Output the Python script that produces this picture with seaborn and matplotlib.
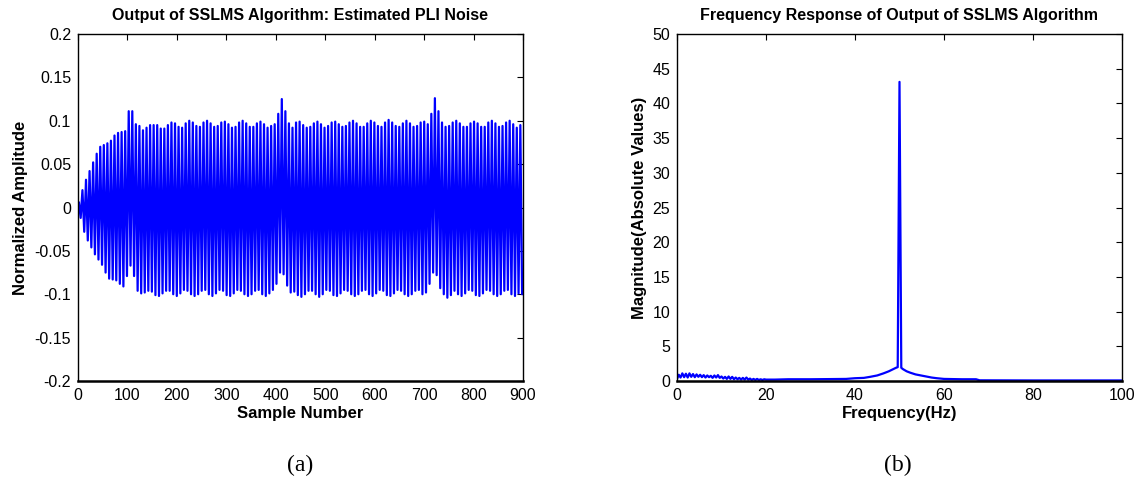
import numpy as np
import pandas as pd
import matplotlib
matplotlib.use("Agg")
import matplotlib.pyplot as plt
import seaborn as sns

# ---- (a) estimated PLI noise: per-cycle extremes of the filter output ----
CYCLE_SAMPLES = 7.2          # 50 Hz interference sampled at 360 Hz
N_SAMPLES = 900

peak_values = [
    0.006, 0.020, 0.032, 0.042, 0.052,
    0.062, 0.070, 0.072, 0.074, 0.077,
    0.083, 0.086, 0.087, 0.088, 0.111,
    0.111, 0.096, 0.094, 0.089, 0.092,
    0.095, 0.095, 0.095, 0.091, 0.091,
    0.095, 0.098, 0.097, 0.093, 0.092,
    0.097, 0.100, 0.098, 0.094, 0.093,
    0.098, 0.100, 0.097, 0.093, 0.094,
    0.098, 0.099, 0.096, 0.092, 0.093,
    0.098, 0.100, 0.097, 0.093, 0.093,
    0.097, 0.099, 0.096, 0.092, 0.094,
    0.096, 0.108, 0.125, 0.111, 0.097,
    0.092, 0.098, 0.099, 0.095, 0.092,
    0.093, 0.097, 0.099, 0.096, 0.092,
    0.094, 0.098, 0.099, 0.096, 0.093,
    0.094, 0.098, 0.100, 0.097, 0.093,
    0.093, 0.097, 0.100, 0.098, 0.094,
    0.093, 0.098, 0.101, 0.098, 0.094,
    0.093, 0.097, 0.100, 0.097, 0.093,
    0.094, 0.098, 0.099, 0.096, 0.108,
    0.126, 0.111, 0.098, 0.093, 0.094,
    0.098, 0.100, 0.097, 0.093, 0.093,
    0.097, 0.099, 0.097, 0.093, 0.093,
    0.098, 0.100, 0.097, 0.093, 0.094,
    0.098, 0.100, 0.096, 0.092, 0.095,
]

trough_values = [
    -0.012, -0.028, -0.038, -0.046, -0.054,
    -0.060, -0.066, -0.075, -0.082, -0.083,
    -0.084, -0.088, -0.091, -0.079, -0.067,
    -0.079, -0.096, -0.099, -0.098, -0.096,
    -0.097, -0.101, -0.102, -0.099, -0.096,
    -0.096, -0.100, -0.102, -0.099, -0.095,
    -0.096, -0.100, -0.102, -0.100, -0.096,
    -0.095, -0.100, -0.102, -0.099, -0.095,
    -0.096, -0.101, -0.102, -0.099, -0.095,
    -0.096, -0.100, -0.102, -0.100, -0.096,
    -0.095, -0.100, -0.102, -0.099, -0.095,
    -0.088, -0.075, -0.077, -0.090, -0.098,
    -0.097, -0.101, -0.103, -0.100, -0.096,
    -0.096, -0.100, -0.103, -0.100, -0.095,
    -0.096, -0.101, -0.102, -0.099, -0.095,
    -0.096, -0.100, -0.102, -0.100, -0.096,
    -0.095, -0.100, -0.102, -0.099, -0.095,
    -0.096, -0.101, -0.102, -0.099, -0.095,
    -0.096, -0.100, -0.102, -0.100, -0.096,
    -0.095, -0.100, -0.098, -0.088, -0.075,
    -0.078, -0.093, -0.100, -0.104, -0.101,
    -0.096, -0.100, -0.102, -0.099, -0.095,
    -0.096, -0.101, -0.102, -0.099, -0.095,
    -0.096, -0.100, -0.102, -0.100, -0.096,
    -0.095, -0.100, -0.102, -0.099, -0.100,
]

time_xticks = list(range(0, 1000, 100))
time_yticks = [0.2, 0.15, 0.1, 0.05, 0, -0.05, -0.1, -0.15, -0.2]
time_yticklabels = ["0.2", "0.15", "0.1", "0.05", "0", "-0.05", "-0.1", "-0.15", "-0.2"]

# ---- (b) magnitude spectrum of the output ----
freq_hz = [
    0.0, 0.4, 0.8, 1.2, 1.6, 2.0, 2.4, 2.8, 3.2, 3.6,
    4.0, 4.4, 4.8, 5.2, 5.6, 6.0, 6.4, 6.8, 7.2, 7.6,
    8.0, 8.4, 8.8, 9.2, 9.6, 10.0, 10.4, 10.8, 11.2, 11.6,
    12.0, 12.4, 12.8, 13.2, 13.6, 14.0, 14.4, 14.8, 15.2, 15.6,
    16.0, 16.4, 16.8, 17.2, 17.6, 18.0, 18.4, 18.8, 19.2, 19.6,
    20.0, 22.0, 25.0, 30.0, 35.0, 38.0, 40.0, 42.0, 43.4, 45.0,
    46.4, 47.6, 48.4, 49.2, 49.6, 50.0, 50.4, 50.8, 51.6, 52.4,
    53.6, 54.8, 56.0, 57.2, 58.4, 60.0, 64.0, 67.2, 68.0, 80.0,
    100.0,
]
magnitude = [
    0.30, 0.90, 0.50, 1.10, 0.55, 1.05, 0.50, 1.10, 0.60, 1.00,
    0.55, 0.95, 0.60, 0.90, 0.55, 0.85, 0.50, 0.80, 0.55, 0.75,
    0.45, 0.80, 0.50, 0.85, 0.45, 0.65, 0.35, 0.60, 0.30, 0.65,
    0.30, 0.60, 0.25, 0.50, 0.25, 0.45, 0.20, 0.45, 0.20, 0.50,
    0.20, 0.35, 0.15, 0.30, 0.15, 0.30, 0.15, 0.25, 0.15, 0.25,
    0.20, 0.20, 0.25, 0.25, 0.28, 0.30, 0.40, 0.45, 0.60, 0.80,
    1.10, 1.40, 1.65, 1.90, 2.00, 43.10, 1.90, 1.70, 1.40, 1.20,
    0.95, 0.80, 0.65, 0.50, 0.40, 0.30, 0.25, 0.25, 0.10, 0.08,
    0.08,
]

freq_xticks = [0, 20, 40, 60, 80, 100]
freq_yticks = list(range(0, 55, 5))

# ---- assemble the zig-zag waveform through successive extremes ----
n_cycles = len(peak_values)
peak_pos = CYCLE_SAMPLES / 4 + CYCLE_SAMPLES * np.arange(n_cycles)
trough_pos = peak_pos + CYCLE_SAMPLES / 2
wave = pd.DataFrame({
    "sample": np.concatenate([[0.0], np.column_stack([peak_pos, trough_pos]).ravel()]),
    "amplitude": np.concatenate([[0.0], np.column_stack([peak_values, trough_values]).ravel()]),
})
spectrum = pd.DataFrame({"freq": freq_hz, "mag": magnitude})

# ---- styling ----
sns.set_theme(style="white")
plt.rcParams["font.family"] = ["Liberation Sans", "DejaVu Sans"]
plt.rcParams.update({
    "axes.linewidth": 1.0,
    "axes.edgecolor": "black",
    "axes.labelcolor": "black",
    "text.color": "black",
    "xtick.color": "black",
    "ytick.color": "black",
})

fig = plt.figure(figsize=(11.4, 4.87), dpi=100)
W, H = 1140, 487
ax_a = fig.add_axes([78 / W, 1 - 381 / H, 445 / W, 347 / H])
ax_b = fig.add_axes([677 / W, 1 - 381 / H, 445 / W, 347 / H])

line_kw = dict(color="#0000ff", linewidth=1.6, estimator=None, sort=False, legend=False)
sns.lineplot(data=wave, x="sample", y="amplitude", ax=ax_a, **line_kw)
sns.lineplot(data=spectrum, x="freq", y="mag", ax=ax_b, **line_kw)

tick_fs = 11.5
label_fs = 12
title_fs = 11.5

ax_a.set_xlim(0, N_SAMPLES)
ax_a.set_ylim(-0.2, 0.2)
ax_a.set_xticks(time_xticks)
ax_a.set_yticks(time_yticks)
ax_a.set_yticklabels(time_yticklabels)
ax_a.set_xlabel("Sample Number", fontsize=label_fs, fontweight="bold", labelpad=2)
ax_a.set_ylabel("Normalized Amplitude", fontsize=label_fs, fontweight="bold", labelpad=5)
ax_a.set_title("Output of SSLMS Algorithm: Estimated PLI Noise",
               fontsize=title_fs, fontweight="bold", pad=10)

ax_b.set_xlim(0, 100)
ax_b.set_ylim(0, 50)
ax_b.set_xticks(freq_xticks)
ax_b.set_yticks(freq_yticks)
ax_b.set_xlabel("Frequency(Hz)", fontsize=label_fs, fontweight="bold", labelpad=2)
ax_b.set_ylabel("Magnitude(Absolute Values)", fontsize=label_fs, fontweight="bold", labelpad=4)
ax_b.set_title("Frequency Response of Output of SSLMS Algorithm",
               fontsize=title_fs, fontweight="bold", pad=10)

for ax in (ax_a, ax_b):
    ax.tick_params(direction="in", top=True, right=True, length=4, width=0.8,
                   labelsize=tick_fs, pad=5, colors="black")
    for s in ax.spines.values():
        s.set_visible(True)
        s.set_color("black")
    ax.spines["bottom"].set_linewidth(1.8)
    ax.grid(False)

fig.text(300 / W, 1 - 465 / H, "(a)", ha="center", va="center",
         fontsize=17, family=["Liberation Serif", "DejaVu Serif"])
fig.text(898 / W, 1 - 465 / H, "(b)", ha="center", va="center",
         fontsize=17, family=["Liberation Serif", "DejaVu Serif"])

fig.savefig("out.png", dpi=100, facecolor="white")
